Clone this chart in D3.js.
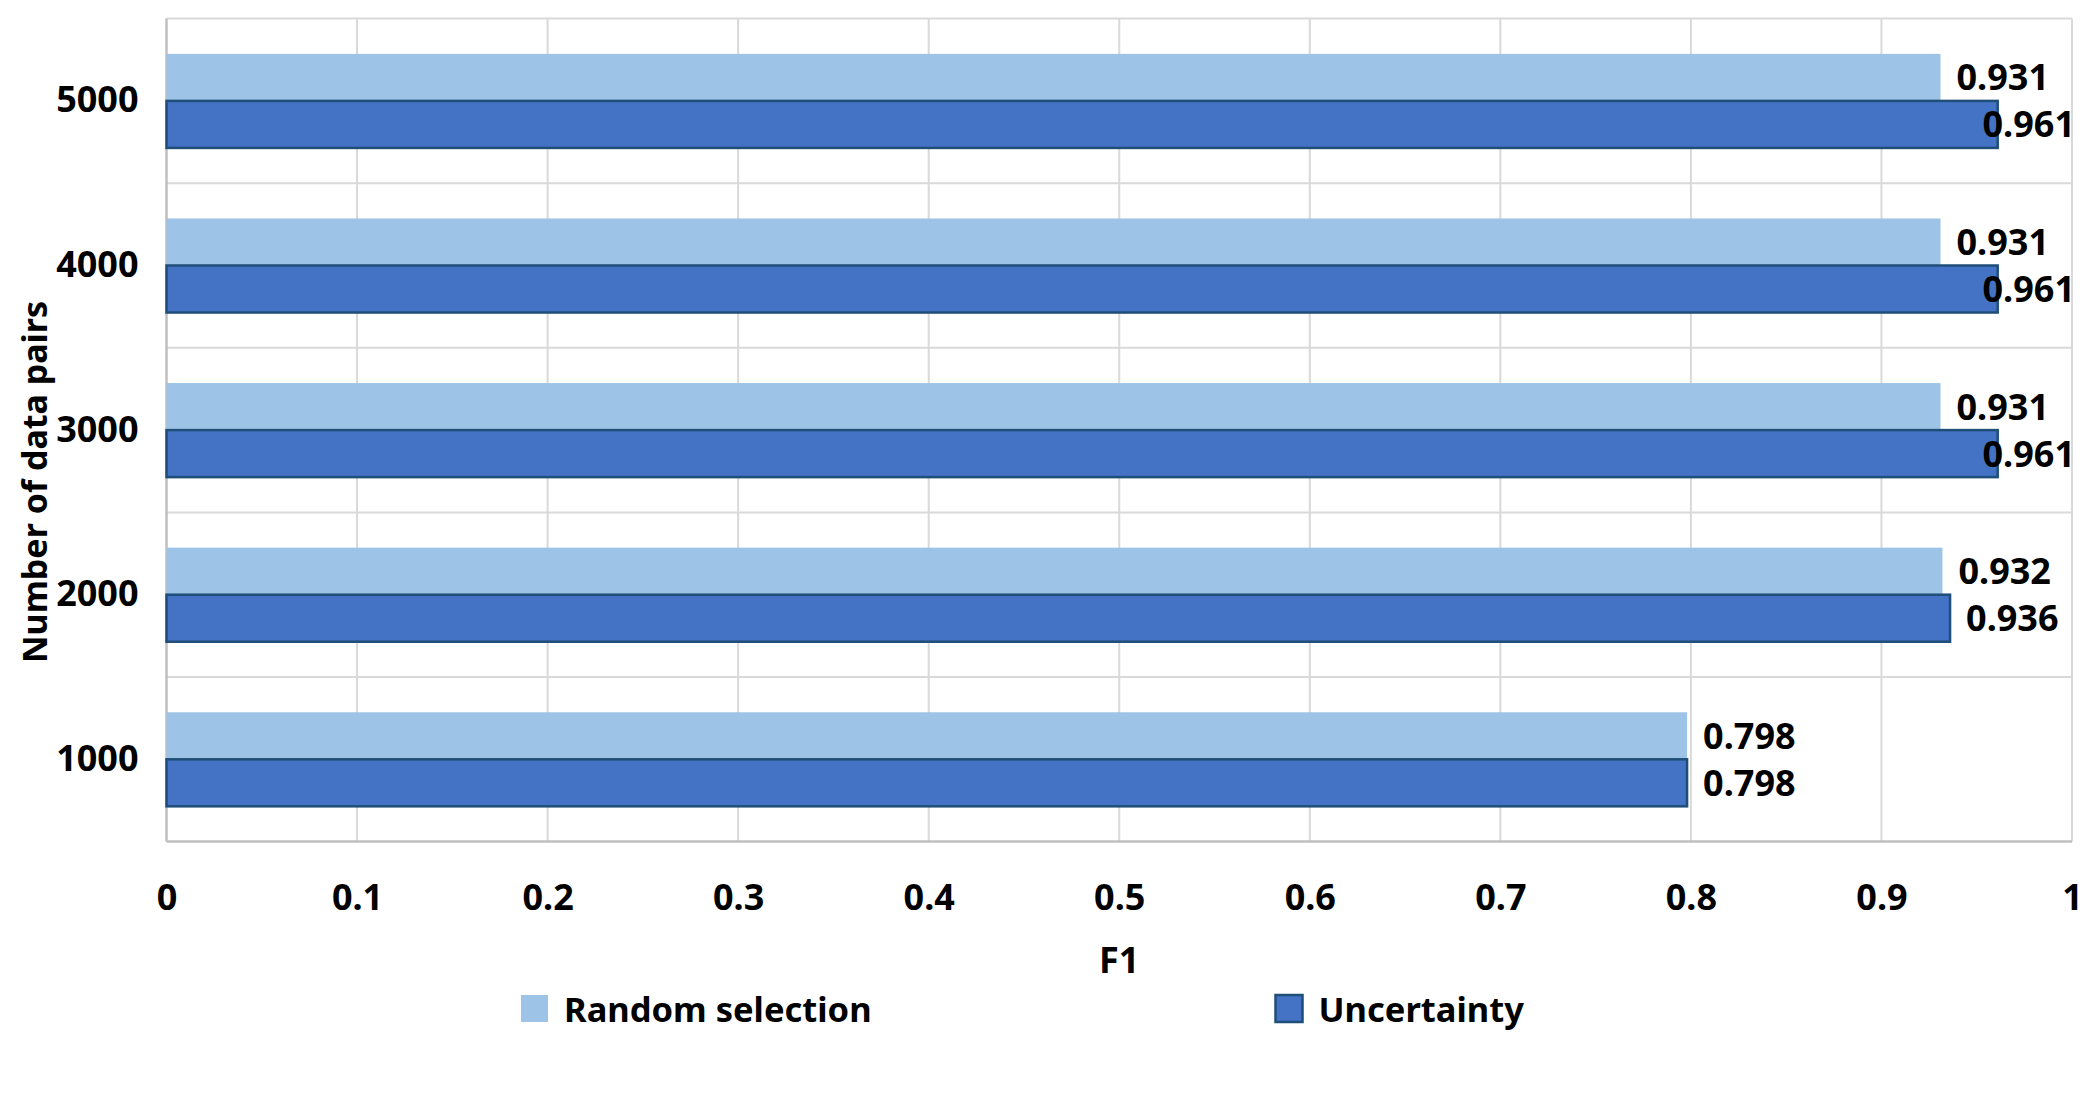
<!DOCTYPE html>
<html>
<head>
<meta charset="utf-8">
<script src="https://cdn.jsdelivr.net/npm/d3@7.9.0/dist/d3.min.js"></script>
<style>
  body { margin: 0; background: #fff; }
  text { font-family: "Noto Sans", "Open Sans", sans-serif; font-weight: bold; fill: #000; }
</style>
</head>
<body>
<div id="chart"></div>
<script>
// Data
const categories = ["1000", "2000", "3000", "4000", "5000"];
const seriesNames = ["Random selection", "Uncertainty"];
const randomValues = [0.798, 0.932, 0.931, 0.931, 0.931];
const uncertaintyValues = [0.798, 0.936, 0.961, 0.961, 0.961];
const xTicks = [0, 0.1, 0.2, 0.3, 0.4, 0.5, 0.6, 0.7, 0.8, 0.9, 1];
const xTitle = "F1";
const yTitle = "Number of data pairs";

const colors = { "Random selection": "#9DC3E6", "Uncertainty": "#4472C4" };

const width = 2088;
const height = 1097;
const margin = { top: 18.6, right: 16, bottom: 255.4, left: 166.5 };
const plotW = width - margin.left - margin.right;
const plotH = height - margin.top - margin.bottom;

const svg = d3.select("#chart")
  .append("svg")
  .attr("width", width)
  .attr("height", height);

const g = svg.append("g")
  .attr("transform", `translate(${margin.left},${margin.top})`);

const x = d3.scaleLinear().domain([0, 1]).range([0, plotW]);

// 5000 on top
const y = d3.scaleBand()
  .domain(categories.slice().reverse())
  .range([0, plotH])
  .paddingInner(0)
  .paddingOuter(0);

const ySub = d3.scaleBand()
  .domain(seriesNames)
  .range([0, y.bandwidth()])
  .paddingInner(0)
  .paddingOuter(0.75);

const rows = categories.map((c, i) => ({
  cat: c,
  values: [
    { series: "Random selection", value: randomValues[i] },
    { series: "Uncertainty", value: uncertaintyValues[i] }
  ]
}));

// gridlines
const grid = g.append("g");
grid.selectAll("line.v")
  .data(xTicks.filter(d => d > 0))
  .join("line")
  .attr("class", "v")
  .attr("x1", d => x(d)).attr("x2", d => x(d))
  .attr("y1", 0).attr("y2", plotH)
  .attr("stroke", "#D9D9D9")
  .attr("stroke-width", 2);

const bandEdges = y.domain().map(d => y(d));
grid.selectAll("line.h")
  .data(bandEdges)
  .join("line")
  .attr("class", "h")
  .attr("x1", 0).attr("x2", plotW)
  .attr("y1", d => d).attr("y2", d => d)
  .attr("stroke", "#D9D9D9")
  .attr("stroke-width", 2);

// axis lines
g.append("line")
  .attr("x1", 0).attr("x2", plotW)
  .attr("y1", plotH).attr("y2", plotH)
  .attr("stroke", "#BFBFBF").attr("stroke-width", 2.5);
g.append("line")
  .attr("x1", 0).attr("x2", 0)
  .attr("y1", 0).attr("y2", plotH)
  .attr("stroke", "#BFBFBF").attr("stroke-width", 2.5);

// bars
const groups = g.selectAll("g.cat")
  .data(rows)
  .join("g")
  .attr("class", "cat")
  .attr("transform", d => `translate(0,${y(d.cat)})`);

groups.selectAll("rect")
  .data(d => d.values)
  .join("rect")
  .attr("x", 0)
  .attr("y", d => ySub(d.series))
  .attr("width", d => x(d.value))
  .attr("height", ySub.bandwidth())
  .attr("fill", d => colors[d.series])
  .attr("stroke", d => d.series === "Uncertainty" ? "#1F4E79" : "none")
  .attr("stroke-width", 2.5);

// value labels, kept inside the plot on the right
groups.selectAll("text.val")
  .data(d => d.values)
  .join("text")
  .attr("class", "val")
  .attr("font-size", 36)
  .attr("y", d => ySub(d.series) + ySub.bandwidth() / 2)
  .attr("dy", "0.36em")
  .text(d => d.value.toFixed(3))
  .each(function(d) {
    const w = this.getComputedTextLength();
    const px = Math.min(x(d.value) + 16, plotW + 3 - w);
    d3.select(this).attr("x", px);
  });

// x axis
const xAxis = g.append("g")
  .attr("transform", `translate(0,${plotH})`)
  .call(d3.axisBottom(x).tickValues(xTicks).tickSize(0).tickPadding(42.6).tickFormat(d3.format("~g")));
xAxis.select(".domain").remove();
xAxis.selectAll("text").attr("font-size", 36).attr("font-family", null);

// y axis
const yAxis = g.append("g")
  .call(d3.axisLeft(y).tickSize(0).tickPadding(28));
yAxis.select(".domain").remove();
yAxis.selectAll("text").attr("font-size", 36).attr("font-family", null);

// axis titles
svg.append("text")
  .attr("x", margin.left + plotW / 2)
  .attr("y", 973)
  .attr("text-anchor", "middle")
  .attr("font-size", 36)
  .text(xTitle);

svg.append("text")
  .attr("transform", "translate(46.7,482) rotate(-90)")
  .attr("text-anchor", "middle")
  .attr("font-size", 34)
  .text(yTitle);

// legend
const legendPos = [
  { series: "Random selection", x: 521 },
  { series: "Uncertainty", x: 1275.5 }
];
const legend = svg.selectAll("g.legend")
  .data(legendPos)
  .join("g")
  .attr("class", "legend")
  .attr("transform", d => `translate(${d.x},995)`);

legend.append("rect")
  .attr("width", 27)
  .attr("height", 27)
  .attr("fill", d => colors[d.series])
  .attr("stroke", d => d.series === "Uncertainty" ? "#1F4E79" : "none")
  .attr("stroke-width", 2.5);

legend.append("text")
  .attr("x", 43)
  .attr("y", 26.5)
  .attr("font-size", 34.5)
  .text(d => d.series);
</script>
</body>
</html>
